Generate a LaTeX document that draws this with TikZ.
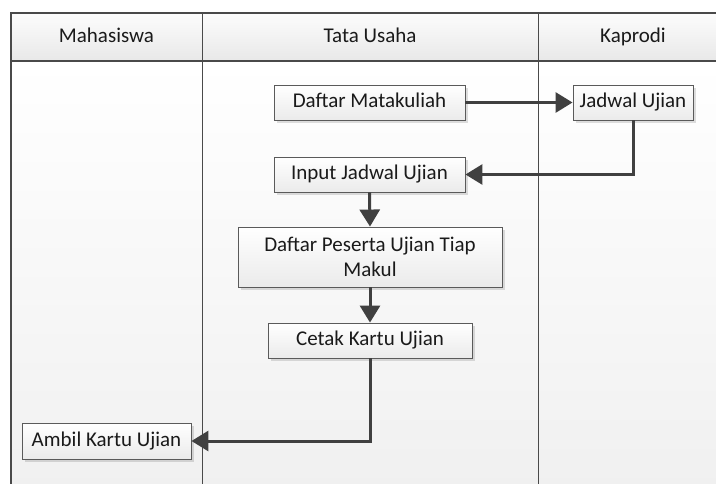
\documentclass[tikz,border=0pt]{standalone}
\usepackage{fontspec}
\setmainfont{Carlito}
\usetikzlibrary{arrows.meta,shadows}
\definecolor{lanebord}{HTML}{4A4A4A}
\definecolor{boxbord}{HTML}{5A5A5A}
\definecolor{flow}{HTML}{404040}
\definecolor{ink}{HTML}{1A1A1A}
\tikzset{
  stepbox/.style={draw=boxbord, line width=0.9pt, top color=white, bottom color=black!8,
    text=ink, font=\fontsize{21}{25}\selectfont, inner sep=2pt, align=center,
    drop shadow={shadow xshift=3pt, shadow yshift=-3pt, fill=black, opacity=0.13}},
  oneline/.style={text height=14pt, text depth=4pt},
  flowline/.style={draw=flow, line width=3pt, -{Triangle[width=20pt,length=17pt]}},
  lanehead/.style={text=ink, font=\fontsize{21}{25}\selectfont, text height=14pt, text depth=4pt},
}
\begin{document}
\begin{tikzpicture}[x=1pt, y=-1pt]
  \useasboundingbox (0,0) rectangle (716,483);
  \clip (0,0) rectangle (716,483);
  \fill[white] (0,0) rectangle (716,483);
  % lane headers and bodies
  \shade[top color=black!1, bottom color=black!9] (11,13) rectangle (728,61);
  \shade[top color=white, bottom color=black!6] (11,61) rectangle (728,500);
  \draw[lanebord, line width=1.2pt] (11,500) -- (11,13) -- (728,13) -- (728,500) -- cycle;
  \draw[lanebord, line width=1.2pt] (11,61) -- (728,61);
  \draw[lanebord, line width=1pt] (202,13) -- (202,500);
  \draw[lanebord, line width=1pt] (538,13) -- (538,500);
  \node[lanehead] (hM) at (106.5,37) {Mahasiswa};
  \node[lanehead] (hT) at (370,37) {Tata Usaha};
  \node[lanehead] (hK) at (633,37) {Kaprodi};
  % activities
  \node[stepbox, oneline, minimum width=191pt, minimum height=35pt] (dm) at (369.5,102.5) {Daftar Matakuliah};
  \node[stepbox, oneline, minimum width=120pt, minimum height=35pt] (ju) at (633,102.5) {Jadwal Ujian};
  \node[stepbox, oneline, minimum width=191pt, minimum height=35pt] (ij) at (369.5,174.5) {Input Jadwal Ujian};
  \node[stepbox, minimum width=264pt, minimum height=60pt] (dp) at (370,257) {Daftar Peserta Ujian Tiap\\Makul};
  \node[stepbox, oneline, minimum width=204pt, minimum height=35pt] (ck) at (370,340.5) {Cetak Kartu Ujian};
  \node[stepbox, oneline, minimum width=169pt, minimum height=36pt] (ak) at (106.5,441) {Ambil Kartu Ujian};
  % flow
  \draw[flowline] (dm.east) -- (ju.west);
  \draw[flowline] (ju.south) |- (ij.east);
  \draw[flowline] (ij.south) -- (dp.north);
  \draw[flowline] (dp.south) -- (ck.north);
  \draw[flowline] (ck.south) |- (ak.east);
\end{tikzpicture}
\end{document}
